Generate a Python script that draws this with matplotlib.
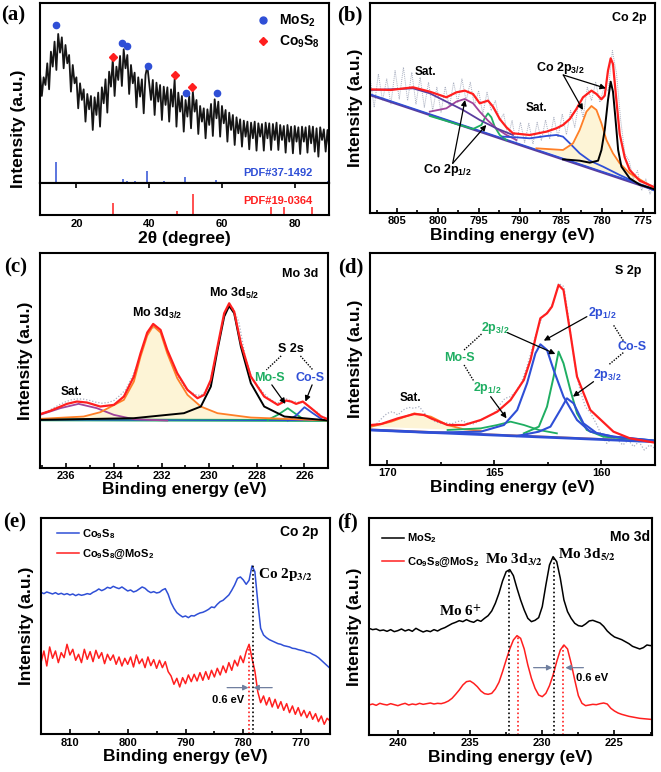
#!/usr/bin/env python3
"""XRD and XPS panels (a)-(f) for the Co9S8@MoS2 composite."""

import numpy as np
import matplotlib
matplotlib.use('Agg')
import matplotlib.pyplot as plt
from matplotlib.lines import Line2D
from matplotlib.ticker import MultipleLocator

###############################################################################
# DATA (intensities in arbitrary units)

# (a) XRD pattern, 2theta = 10..90 deg in 0.5 deg steps
xrd_intensity = [
    330, 262, 318, 295, 360, 282, 395, 350, 425, 340, 448, 392, 438, 345,
    415, 360, 385, 275, 355, 300, 318, 225, 300, 250, 282, 185, 268, 222,
    262, 160, 258, 205, 272, 170, 288, 240, 312, 212, 335, 290, 372, 262,
    350, 310, 382, 292, 402, 345, 385, 268, 355, 300, 332, 228, 318, 260,
    312, 210, 325, 352, 300, 250, 310, 205, 302, 245, 295, 190, 290, 235,
    288, 185, 282, 230, 312, 170, 272, 215, 262, 155, 250, 200, 262, 165,
    275, 215, 250, 148, 232, 185, 225, 135, 222, 175, 238, 142, 252, 195,
    245, 140, 232, 180, 220, 125, 212, 160, 205, 115, 198, 150, 192, 110,
    188, 140, 185, 102, 182, 135, 185, 98, 180, 140, 178, 98, 182, 135,
    180, 100, 178, 130, 182, 100, 175, 130, 172, 92, 175, 125, 170, 90, 172,
    125, 168, 88, 170, 125, 168, 92, 172, 120, 170, 95, 165, 80, 168, 130,
    162, 95, 160, 100, 158]
mos2_peaks = [14.3, 32.6, 33.8, 39.6, 50.0, 58.6]
mos2_peak_int = [474, 422, 413, 353, 270, 270]
co9s8_peaks = [30.0, 47.1, 51.7]
co9s8_peak_int = [379, 324, 289]
pdf_mos2_pos = [14.3, 32.7, 33.9, 36.0, 39.5, 44.1, 49.9, 56.2, 58.4, 60.2,
                62.8, 66.0, 68.5, 70.1, 72.8, 75.9, 77.5, 78.9, 80.1, 82.0,
                85.2, 86.5, 89.2]
pdf_mos2_int = [63, 14, 6, 6, 37, 7, 20, 3, 9, 5, 3, 2, 3, 4, 3, 3, 3, 2, 3,
                2, 2, 2, 7]
pdf_co9s8_pos = [15.6, 17.9, 25.7, 29.95, 31.2, 36.2, 39.6, 40.7, 44.8, 47.6,
                 52.1, 55.3, 57.2, 61.7, 62.5, 66.8, 68.6, 70.4, 73.5, 77.0,
                 79.5, 81.8, 84.7, 85.9]
pdf_co9s8_int = [4, 4, 4, 36, 5, 4, 5, 4, 4, 13, 64, 4, 4, 5, 5, 4, 4, 4, 24,
                 24, 4, 4, 24, 5]

# (b) Co 2p fit
b_raw = [400, 310, 410, 330, 395, 320, 420, 335, 430, 330,
         415, 320, 400, 310, 385, 300, 370, 295, 372, 310,
         385, 325, 395, 330, 385, 315, 360, 290, 355, 300,
         330, 270, 290, 220, 270, 200, 265, 205, 262, 200,
         265, 210, 272, 215, 280, 220, 290, 228, 300, 250,
         330, 280, 370, 330, 385, 325, 370, 360, 480, 410,
         270, 170, 150, 95, 120, 60, 95, 50, 80]
b_red_x = [808.33, 805.77, 803.05, 801.0, 798.97, 797.75, 796.73, 795.72,
           794.9, 793.89, 793.28, 792.46, 791.64, 790.84, 788.8, 786.76,
           785.54, 784.73, 783.9, 783.1, 782.29, 781.26, 780.65, 780.04,
           779.64, 779.24, 778.91, 778.63, 778.21, 777.81, 777.2, 776.59,
           775.37, 773.54]
b_red_y = [364, 362, 370, 357, 340, 355, 360, 350, 322, 330, 312, 275, 250,
           232, 227, 237, 247, 257, 275, 305, 340, 360, 350, 334, 345, 420,
           457, 440, 330, 230, 160, 122, 90, 70]
b_black_x = [784.73, 782.7, 781.46, 780.45, 780.04, 779.64, 779.24, 778.91,
             778.63, 778.35, 778.0, 777.6, 776.59, 775.37, 773.54]
b_black_y = [154, 150, 144, 150, 182, 242, 332, 387, 357, 282, 182, 132, 97,
             78, 64]
b_orange_x = [787.98, 784.73, 783.51, 782.7, 781.87, 781.26, 780.65, 780.04,
              779.43, 778.63, 777.81, 776.59, 773.54]
b_orange_y = [187, 182, 202, 242, 297, 314, 302, 262, 212, 172, 142, 112, 67]
b_blue_x = [792.06, 790.42, 788.8, 786.76, 785.54, 784.73, 783.9, 782.7,
            781.46, 779.84, 777.81, 775.78, 773.54]
b_blue_y = [222, 220, 217, 224, 227, 222, 202, 172, 150, 132, 107, 84, 60]
b_sat_x = [808.33, 805.77, 803.05, 801.0, 798.97, 796.94, 794.9, 792.87,
           790.84]
b_sat_y = [362, 364, 367, 352, 327, 302, 272, 247, 227]
b_purple_x = [801.0, 798.97, 797.75, 796.73, 795.72, 794.9, 793.89, 792.87,
              791.64, 790.42]
b_purple_y = [297, 307, 327, 335, 322, 297, 270, 247, 227, 212]
b_green_x = [801.0, 795.72, 794.7, 794.3, 793.89, 793.48, 793.07, 792.46,
             791.64]
b_green_y = [284, 245, 257, 277, 292, 280, 252, 227, 212]
b_base_x = [808.33, 773.54]
b_base_y = [347, 62]

# (c) Mo 3d fit
c_raw = [165, 172, 182, 192, 200, 206, 208, 207, 203, 198,
         195, 197, 203, 218, 236, 272, 312, 372, 415, 425,
         405, 350, 305, 268, 240, 228, 218, 222, 250, 325,
         415, 478, 480, 438, 340, 278, 250, 228, 210, 198,
         196, 208, 200, 198, 196, 180, 170, 155, 148]
c_red_x = [237.1, 236.67, 235.97, 235.55, 235.13, 234.57, 234.0, 233.58,
           233.16, 232.88, 232.6, 232.35, 232.04, 231.76, 231.34, 230.91,
           230.49, 230.21, 229.93, 229.65, 229.37, 229.16, 228.95, 228.67,
           228.25, 227.69, 227.12, 226.77, 226.56, 226.35, 226.07, 225.72,
           225.3, 224.95]
c_red_y = [162, 172, 193, 200, 197, 185, 190, 215, 275, 345, 407, 433, 415,
           355, 285, 235, 210, 220, 265, 365, 465, 495, 470, 375, 275, 215,
           190, 203, 200, 193, 200, 180, 155, 145]
c_black_x = [237.1, 233.16, 231.06, 230.35, 229.93, 229.65, 229.37, 229.16,
             228.95, 228.67, 228.25, 227.69, 226.84, 224.95]
c_black_y = [145, 150, 165, 185, 245, 355, 455, 487, 465, 365, 255, 185, 155,
             143]
c_orange_x = [237.1, 235.27, 234.57, 233.58, 233.16, 232.88, 232.6, 232.35,
              232.04, 231.76, 231.34, 230.91, 230.35, 229.65, 228.25, 224.95]
c_orange_y = [148, 155, 168, 205, 260, 335, 398, 427, 407, 345, 270, 220,
              185, 165, 152, 143]
c_purple_x = [237.1, 236.25, 235.48, 234.71, 234.0, 233.16, 231.76]
c_purple_y = [160, 180, 193, 180, 160, 147, 143]
c_green_x = [227.54, 227.12, 226.7, 226.35, 226.0]
c_green_y = [145, 160, 180, 162, 145]
c_blue_x = [226.7, 226.35, 226.0, 225.65, 225.23]
c_blue_y = [143, 158, 183, 165, 145]
c_base_x = [237.1, 224.95]
c_base_y = [145, 143]

# (d) S 2p fit
d_raw = [110, 118, 135, 150, 155, 145, 160, 168, 165, 170,
         150, 135, 125, 120, 122, 118, 125, 128, 120, 118,
         125, 135, 142, 150, 175, 195, 200, 215, 240, 285,
         340, 400, 440, 455, 480, 540, 530, 420, 300, 220,
         170, 150, 120, 85, 60, 75, 70, 55, 70, 50,
         65, 40, 55, 45]
d_red_x = [170.74, 170.28, 169.5, 168.73, 168.27, 167.96, 167.18, 166.41,
           165.63, 164.86, 164.24, 163.62, 163.31, 163.08, 162.85, 162.54,
           162.31, 162.0, 161.77, 161.45, 161.14, 160.52, 159.44, 158.67,
           157.51]
d_red_y = [115, 118, 135, 148, 145, 135, 115, 115, 130, 155, 190, 250, 310,
           375, 435, 450, 470, 535, 520, 390, 260, 160, 95, 75, 62]
d_cos1_x = [170.74, 167.96, 165.63, 164.55, 163.93, 163.47, 163.08, 162.85,
            162.54, 162.23, 161.77, 161.14, 160.52, 159.44, 157.51]
d_cos1_y = [100, 92, 95, 115, 160, 240, 330, 357, 340, 280, 200, 130, 95, 80,
            68]
d_cos2_x = [163.93, 162.92, 162.38, 161.92, 161.61, 161.3, 160.84, 160.21,
            159.44, 157.51]
d_cos2_y = [82, 95, 110, 160, 195, 180, 120, 90, 80, 68]
d_mos1_x = [163.62, 162.92, 162.54, 162.23, 162.0, 161.77, 161.45, 161.14,
            160.68, 159.91, 157.51]
d_mos1_y = [90, 110, 170, 260, 335, 300, 220, 150, 100, 80, 68]
d_mos2_x = [167.18, 165.63, 164.86, 164.24, 163.62, 162.92, 162.08]
d_mos2_y = [100, 105, 115, 125, 115, 100, 90]
d_sat_x = [170.74, 169.81, 168.73, 167.96, 167.18, 166.41, 165.63]
d_sat_y = [110, 125, 150, 140, 115, 102, 98]
d_base_x = [170.74, 157.51]
d_base_y = [100, 65]

# (e) Co 2p comparison, 815..765 eV in 0.5 eV steps
e_co9s8 = [426, 422, 427, 424, 421, 425, 420, 423, 419, 422,
           418, 421, 416, 420, 417, 419, 422, 420, 426, 430,
           436, 431, 435, 441, 438, 444, 440, 437, 442, 436,
           430, 433, 427, 430, 436, 442, 438, 430, 425, 428,
           424, 426, 433, 437, 420, 395, 378, 365, 358, 352,
           355, 350, 356, 355, 360, 364, 366, 370, 375, 382,
           380, 390, 398, 402, 410, 418, 432, 448, 468, 472,
           463, 450, 462, 505, 488, 398, 318, 298, 290, 284,
           280, 276, 272, 270, 266, 264, 262, 258, 257, 254,
           252, 250, 246, 245, 240, 236, 230, 222, 214, 206,
           198]
e_composite = [215, 250, 205, 262, 228, 250, 215, 245, 230, 270,
               238, 255, 222, 240, 215, 255, 225, 248, 218, 252,
               228, 245, 212, 240, 222, 238, 210, 232, 205, 228,
               210, 232, 202, 238, 212, 226, 200, 232, 206, 224,
               198, 222, 200, 218, 188, 175, 150, 168, 142, 170,
               152, 178, 158, 180, 160, 185, 162, 188, 165, 192,
               172, 198, 178, 205, 185, 215, 192, 222, 205, 235,
               215, 248, 270, 228, 190, 128, 95, 115, 88, 110,
               82, 105, 78, 98, 72, 92, 65, 85, 60, 80,
               55, 72, 50, 68, 45, 62, 38, 55, 30, 48,
               40]
e_peak_pos = [778.35, 779.0]
e_peak_top = [510, 270]

# (f) Mo 3d comparison, 242..222 eV in 0.25 eV steps
f_mos2 = [320, 316, 318, 313, 315, 311, 316, 310, 313, 318,
          312, 316, 311, 320, 314, 309, 313, 310, 316, 312,
          318, 322, 328, 334, 338, 343, 340, 346, 341, 338,
          345, 341, 350, 358, 372, 395, 425, 462, 490, 496,
          478, 440, 405, 375, 350, 340, 344, 352, 385, 450,
          510, 535, 520, 470, 405, 370, 350, 335, 328, 326,
          333, 342, 344, 340, 336, 326, 312, 302, 294, 290,
          286, 280, 274, 266, 262, 258, 262, 270, 268, 272,
          270]
f_composite = [90, 93, 89, 95, 92, 90, 94, 91, 88, 92,
               95, 90, 93, 91, 95, 92, 94, 96, 93, 95,
               94, 97, 102, 110, 122, 135, 150, 160, 162, 155,
               145, 132, 124, 122, 125, 138, 158, 190, 225, 258,
               285, 298, 290, 258, 210, 170, 140, 120, 115, 125,
               148, 180, 220, 255, 270, 258, 215, 165, 118, 95,
               88, 90, 92, 91, 94, 96, 93, 80, 72, 66,
               62, 59, 56, 54, 52, 50, 49, 48, 47, 46,
               45]
f_mos2_peaks = [232.33, 229.17]
f_mos2_tops = [498, 535]
f_comp_peaks = [231.68, 228.53]
f_comp_tops = [298, 270]

###############################################################################
# STYLE
FIG_W, FIG_H = 661, 772
RED = '#ff1f1f'
BLUE = '#2f4fd6'
GREEN = '#1fae62'
ORANGE = '#ff7f27'
PURPLE = '#a0449b'
INDIGO = '#5a3d9e'
RAW = '#a9afc0'
BEIGE = '#fdf4d6'

plt.rcParams['font.family'] = ['Liberation Sans', 'DejaVu Sans']
plt.rcParams['font.weight'] = 'bold'
plt.rcParams['axes.labelweight'] = 'bold'
plt.rcParams['mathtext.fontset'] = 'custom'
plt.rcParams['mathtext.rm'] = 'Liberation Sans:bold'
plt.rcParams['mathtext.it'] = 'Liberation Sans:bold'
plt.rcParams['mathtext.bf'] = 'Liberation Sans:bold'
plt.rcParams['mathtext.default'] = 'rm'

SERIF = dict(family='Liberation Serif', weight='bold', math_fontfamily='stix')


def px_rect(left, top, right, bottom):
    """Axes rectangle from pixel edges of the original figure."""
    return [left / FIG_W, 1 - bottom / FIG_H,
            (right - left) / FIG_W, (bottom - top) / FIG_H]


def style_axes(ax, xlim, ylim, major, minor, xlabel=True):
    """Frame, inward bottom ticks and the shared axis labels."""
    ax.set_xlim(*xlim)
    ax.set_ylim(*ylim)
    ax.set_yticks([])
    ax.xaxis.set_major_locator(MultipleLocator(major))
    if minor:
        ax.xaxis.set_minor_locator(MultipleLocator(minor))
    ax.tick_params(axis='x', which='both', direction='in', top=False,
                   labelsize=8, pad=2.5, width=1.2)
    ax.tick_params(axis='x', which='major', length=3.5)
    ax.tick_params(axis='x', which='minor', length=2)
    for s in ax.spines.values():
        s.set_linewidth(1.5)
    ax.set_ylabel('Intensity (a.u.)', fontsize=12.5, labelpad=5)
    if xlabel:
        ax.set_xlabel('Binding energy (eV)', fontsize=12.5, labelpad=1)


def arrow(ax, start, end, color='k', lw=0.9):
    ax.annotate('', xy=end, xytext=start,
                arrowprops=dict(arrowstyle='-|>', color=color, lw=lw,
                                mutation_scale=8, shrinkA=0, shrinkB=0))


def dotted(ax, start, end):
    ax.plot([start[0], end[0]], [start[1], end[1]], color='k', lw=1,
            ls=(0, (1, 1)))


def main():
    fig = plt.figure(figsize=(FIG_W / 100, FIG_H / 100), dpi=100)

    ###########################################################################
    # (a) XRD
    ax = fig.add_axes(px_rect(40, 3.3, 329.3, 183.3))
    ax2 = fig.add_axes(px_rect(40, 183.3, 329.3, 215.3), sharex=ax)
    two_theta = np.linspace(10, 90, len(xrd_intensity))
    ax.plot(two_theta, xrd_intensity, color='#151515', lw=1.3)
    ax.vlines(pdf_mos2_pos, 0, pdf_mos2_int, color=BLUE, lw=1.1)
    ax.plot(mos2_peaks, mos2_peak_int, 'o', color=BLUE, ms=4.5)
    ax.plot(co9s8_peaks, co9s8_peak_int, 'D', color=RED, ms=3.8)
    ax.set_xlim(10, 89.5)
    ax.set_ylim(0, 540)
    ax.set_yticks([])
    ax.tick_params(axis='x', bottom=False, labelbottom=False)
    ax.text(75.4, 32, 'PDF#37-1492', color=BLUE, fontsize=8, ha='center',
            va='center')
    handles = [Line2D([], [], marker='o', ls='', color=BLUE, ms=5,
                      label='MoS$_2$'),
               Line2D([], [], marker='D', ls='', color=RED, ms=4,
                      label='Co$_9$S$_8$')]
    ax.legend(handles=handles, loc='upper right', frameon=False, fontsize=10,
              handletextpad=0.1, borderaxespad=0.3, labelspacing=0.3)
    ax.set_ylabel('Intensity (a.u.)', fontsize=12.5, labelpad=5)
    ax.yaxis.set_label_coords(-0.05, 0.3)

    ax2.vlines(pdf_co9s8_pos, 0, pdf_co9s8_int, color=RED, lw=1.1)
    ax2.set_ylim(0, 96)
    ax2.set_yticks([])
    ax2.xaxis.set_major_locator(MultipleLocator(20))
    ax2.tick_params(axis='x', direction='in', top=True, bottom=False,
                    labelbottom=True, labelsize=8, pad=3, length=3.5,
                    width=1.2)
    ax2.set_xlabel('2θ (degree)', fontsize=12.5, labelpad=1)
    ax2.text(75.4, 43, 'PDF#19-0364', color=RED, fontsize=8, ha='center',
             va='center')
    for a in (ax, ax2):
        for s in a.spines.values():
            s.set_linewidth(1.5)

    ###########################################################################
    # (b) Co 2p fit
    ax = fig.add_axes(px_rect(370, 3.3, 655, 213))
    ax.plot(np.linspace(808.3, 773.6, len(b_raw)), b_raw, color=RAW, lw=0.7,
            ls=(0, (1, 1)))
    ax.fill(b_orange_x, b_orange_y, color=BEIGE, lw=0)
    ax.plot(b_base_x, b_base_y, color=INDIGO, lw=1.6)
    ax.plot(b_base_x, [b + 3 for b in b_base_y], color=BLUE, lw=1.0)
    ax.plot(b_green_x, b_green_y, color=GREEN, lw=1.3)
    ax.plot(b_purple_x, b_purple_y, color=PURPLE, lw=1.3)
    ax.plot(b_sat_x, b_sat_y, color=INDIGO, lw=1.3)
    ax.plot(b_blue_x, b_blue_y, color=BLUE, lw=1.3)
    ax.plot(b_orange_x, b_orange_y, color=ORANGE, lw=1.3)
    ax.plot(b_black_x, b_black_y, color='k', lw=1.4)
    ax.plot(b_red_x, b_red_y, color=RED, lw=1.6)
    style_axes(ax, (808.3, 773.5), (-7, 622), 5, 2.5)
    ax.text(776.6, 577, 'Co 2p', fontsize=9, ha='center', va='center')
    ax.text(801.5, 417, 'Sat.', fontsize=8.5, ha='center', va='center')
    ax.text(788.0, 307, 'Sat.', fontsize=8.5, ha='center', va='center')
    ax.text(785.1, 427, 'Co 2p$_{3/2}$', fontsize=9, ha='center',
            va='center')
    ax.text(798.8, 122, 'Co 2p$_{1/2}$', fontsize=9, ha='center',
            va='center')
    arrow(ax, (784.7, 407), (782.3, 302))
    arrow(ax, (784.7, 407), (779.5, 367))
    arrow(ax, (798.2, 142), (796.7, 332))
    arrow(ax, (798.2, 142), (794.1, 257))

    ###########################################################################
    # (c) Mo 3d fit
    ax = fig.add_axes(px_rect(40, 253.3, 328.3, 467.5))
    ax.plot(np.linspace(237.0, 225.0, len(c_raw)), c_raw, color=RAW, lw=0.9,
            ls=(0, (1, 1.5)))
    ax.fill(c_orange_x, c_orange_y, color=BEIGE, lw=0)
    ax.plot(c_base_x, c_base_y, color=GREEN, lw=2.0)
    ax.plot(c_base_x, c_base_y, color=BLUE, lw=0.8)
    ax.plot(c_purple_x, c_purple_y, color=PURPLE, lw=1.3)
    ax.plot(c_green_x, c_green_y, color=GREEN, lw=1.3)
    ax.plot(c_blue_x, c_blue_y, color=BLUE, lw=1.3)
    ax.plot(c_orange_x, c_orange_y, color=ORANGE, lw=1.3)
    ax.plot(c_black_x, c_black_y, color='k', lw=1.4)
    ax.plot(c_red_x, c_red_y, color=RED, lw=1.6)
    style_axes(ax, (237.1, 225.0), (2, 645), 2, 1)
    ax.text(226.2, 583, 'Mo 3d', fontsize=9, ha='center', va='center')
    ax.text(235.76, 230, 'Sat.', fontsize=8.5, ha='center', va='center')
    ax.text(232.18, 465, 'Mo 3d$_{3/2}$', fontsize=9, ha='center',
            va='center')
    ax.text(228.95, 525, 'Mo 3d$_{5/2}$', fontsize=9, ha='center',
            va='center')
    ax.text(226.56, 357, 'S 2s', fontsize=9, ha='center', va='center')
    ax.text(227.47, 270, 'Mo-S', fontsize=9, ha='center', va='center',
            color=GREEN)
    ax.text(225.75, 270, 'Co-S', fontsize=9, ha='center', va='center',
            color=BLUE)
    dotted(ax, (226.98, 337), (227.6, 295))
    dotted(ax, (226.17, 337), (225.65, 295))
    arrow(ax, (227.37, 250), (226.8, 193))
    arrow(ax, (225.68, 250), (225.96, 200))

    ###########################################################################
    # (d) S 2p fit
    ax = fig.add_axes(px_rect(370, 253.3, 655, 465))
    ax.plot(np.linspace(170.75, 157.5, len(d_raw)), d_raw, color=RAW, lw=0.9,
            ls=(0, (1, 1.5)))
    ax.fill(d_sat_x, d_sat_y, color=BEIGE, lw=0)
    ax.plot(d_base_x, [b + 2 for b in d_base_y], color=ORANGE, lw=1.0)
    ax.plot(d_base_x, d_base_y, color=BLUE, lw=2.0)
    ax.plot(d_sat_x, d_sat_y, color=ORANGE, lw=1.3)
    ax.plot(d_mos2_x, d_mos2_y, color=GREEN, lw=1.3)
    ax.plot(d_mos1_x, d_mos1_y, color=GREEN, lw=1.4)
    ax.plot(d_cos2_x, d_cos2_y, color=BLUE, lw=1.5)
    ax.plot(d_cos1_x, d_cos1_y, color=BLUE, lw=1.5)
    ax.plot(d_red_x, d_red_y, color=RED, lw=1.6)
    style_axes(ax, (170.8, 157.5), (-5, 630), 5, 2.5)
    ax.text(158.75, 578, 'S 2p', fontsize=9, ha='center', va='center')
    ax.text(168.89, 197, 'Sat.', fontsize=8.5, ha='center', va='center')
    ax.text(164.94, 405, '2p$_{3/2}$', fontsize=9, ha='center', va='center',
            color=GREEN)
    ax.text(166.64, 315, 'Mo-S', fontsize=9, ha='center', va='center',
            color=GREEN)
    ax.text(165.32, 225, '2p$_{1/2}$', fontsize=9, ha='center', va='center',
            color=GREEN)
    ax.text(159.98, 450, '2p$_{1/2}$', fontsize=9, ha='center', va='center',
            color=BLUE)
    ax.text(158.59, 350, 'Co-S', fontsize=9, ha='center', va='center',
            color=BLUE)
    ax.text(159.75, 265, '2p$_{3/2}$', fontsize=9, ha='center', va='center',
            color=BLUE)
    dotted(ax, (166.41, 340), (165.56, 390))
    dotted(ax, (166.41, 295), (165.94, 245))
    dotted(ax, (158.98, 368), (159.44, 415))
    dotted(ax, (158.98, 332), (159.67, 295))
    arrow(ax, (164.39, 392), (162.15, 328))
    arrow(ax, (160.68, 440), (162.69, 368))
    arrow(ax, (160.37, 245), (161.33, 200))
    arrow(ax, (165.17, 200), (164.43, 135))

    ###########################################################################
    # (e) Co 2p comparison
    ax = fig.add_axes(px_rect(41, 518.3, 330, 734.3))
    be = np.linspace(815, 765, len(e_co9s8))
    ax.plot(be, e_co9s8, color=BLUE, lw=1.1, label='Co$_9$S$_8$')
    ax.plot(be, e_composite, color=RED, lw=1.1,
            label='Co$_9$S$_8$@MoS$_2$')
    ax.vlines(e_peak_pos[0], 0, e_peak_top[0], color='k', lw=1.2,
              linestyles=(0, (1, 1.5)))
    ax.vlines(e_peak_pos[1], 0, e_peak_top[1], color=RED, lw=1.2,
              linestyles=(0, (1, 1.5)))
    style_axes(ax, (815, 765), (0, 648), 10, 5)
    ax.legend(loc='upper left', frameon=False, fontsize=8, handlelength=2.0,
              borderaxespad=0.4, labelspacing=0.6, handletextpad=0.25,
              bbox_to_anchor=(0.025, 1.0))
    ax.text(770.4, 608, 'Co 2p', fontsize=10, ha='center', va='center')
    ax.text(777.4, 478, 'Co 2p$_\\mathbf{3/2}$', fontsize=11, ha='left',
            va='center', **SERIF)
    ax.text(782.6, 103, '0.6 eV', fontsize=8, ha='center', va='center')
    arrow(ax, (782.8, 140), (779.1, 140), color='#6f7f9f', lw=0.9)
    arrow(ax, (775.0, 140), (778.25, 140), color='#6f7f9f', lw=0.9)

    ###########################################################################
    # (f) Mo 3d comparison
    ax = fig.add_axes(px_rect(369, 518.3, 652, 735))
    be = np.linspace(242, 222, len(f_mos2))
    ax.plot(be, f_mos2, color='k', lw=1.1, label='MoS$_2$')
    ax.plot(be, f_composite, color=RED, lw=1.1,
            label='Co$_9$S$_8$@MoS$_2$')
    ax.vlines(f_mos2_peaks, 0, f_mos2_tops, color='k', lw=1.2,
              linestyles=(0, (1, 1.5)))
    ax.vlines(f_comp_peaks, 0, f_comp_tops, color=RED, lw=1.2,
              linestyles=(0, (1, 1.5)))
    style_axes(ax, (242.0, 222.4), (0, 650), 5, 2.5)
    ax.legend(loc='upper left', frameon=False, fontsize=8, handlelength=2.0,
              borderaxespad=0.4, labelspacing=0.9, handletextpad=0.25,
              bbox_to_anchor=(0.015, 0.98))
    ax.text(223.9, 595, 'Mo 3d', fontsize=10, ha='center', va='center')
    ax.text(232.0, 525, 'Mo 3d$_\\mathbf{3/2}$', fontsize=11, ha='center',
            va='center', **SERIF)
    ax.text(226.9, 540, 'Mo 3d$_\\mathbf{5/2}$', fontsize=11, ha='center',
            va='center', **SERIF)
    ax.text(235.67, 370, 'Mo 6$^\\mathbf{+}$', fontsize=11, ha='center',
            va='center', **SERIF)
    ax.text(226.56, 170, '0.6 eV', fontsize=8, ha='center', va='center')
    arrow(ax, (230.6, 202), (229.3, 202), color='#6f7f9f', lw=0.9)
    arrow(ax, (227.15, 202), (228.4, 202), color='#6f7f9f', lw=0.9)

    ###########################################################################
    # panel letters
    for name, x, y in [('(a)', 13, 15), ('(b)', 350, 15), ('(c)', 16, 267),
                       ('(d)', 351, 267), ('(e)', 15, 522), ('(f)', 347, 522)]:
        fig.text(x / FIG_W, 1 - y / FIG_H, name, ha='center', va='center',
                 family='Liberation Serif', weight='bold', fontsize=15)

    fig.savefig('out.png', dpi=100)


if __name__ == '__main__':
    main()
